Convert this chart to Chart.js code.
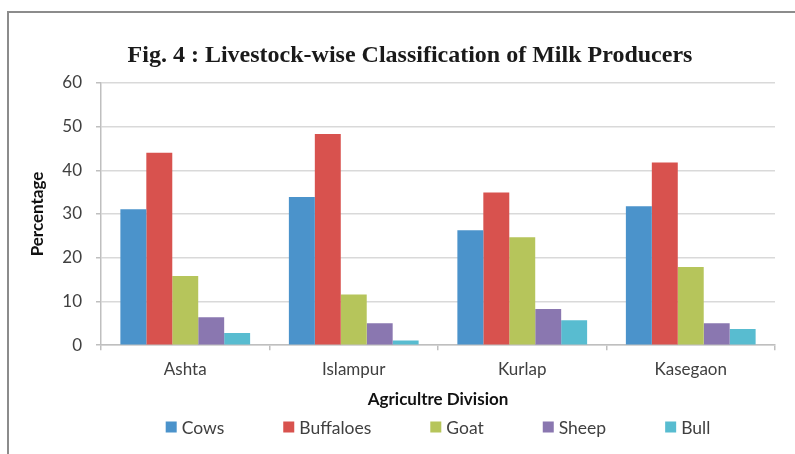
<!DOCTYPE html>
<html>
<head>
<meta charset="utf-8">
<title>Livestock-wise Classification of Milk Producers</title>
<script src="https://cdn.jsdelivr.net/npm/chart.js@4.4.1/dist/chart.umd.min.js"></script>
<style>
  html, body { margin: 0; padding: 0; background: #ffffff; }
  #wrap { position: relative; width: 795px; height: 454px; overflow: hidden; }
  #frame {
    position: absolute; left: 7px; top: 11px; width: 800px; height: 460px;
    border-top: 2px solid #8c8c8c; border-left: 2px solid #8c8c8c;
  }
  #chart { position: absolute; left: 0; top: 0; }
</style>
</head>
<body>
<div id="wrap">
  <div id="frame"></div>
  <canvas id="chart" width="795" height="454"></canvas>
</div>
<script>
// Share of milk producers by livestock kept, per agriculture division (%)
const divisions = ['Ashta', 'Islampur', 'Kurlap', 'Kasegaon'];
const cows      = [31.1, 33.9, 26.3, 31.8];
const buffaloes = [44.0, 48.3, 34.9, 41.8];
const goat      = [15.8, 11.6, 24.7, 17.9];
const sheep     = [6.4, 5.0, 8.3, 5.0];
const bull      = [2.8, 1.1, 5.7, 3.7];

const seriesNames  = ['Cows', 'Buffaloes', 'Goat', 'Sheep', 'Bull'];
const seriesValues = [cows, buffaloes, goat, sheep, bull];
const seriesColors = ['#4b93cb', '#d8524e', '#b6c55b', '#8a77b0', '#58bcd0'];

const BODY_FONT = 'Lato, "Open Sans", sans-serif';

// Legend drawn as one evenly spaced row under the x-axis title
const spacedLegend = {
  id: 'spacedLegend',
  afterDraw(chart, args, opts) {
    const ctx = chart.ctx;
    const area = chart.chartArea;
    ctx.save();
    ctx.font = opts.fontSize + 'px ' + BODY_FONT;
    const items = chart.data.datasets.map(ds => ({
      label: ds.label,
      color: ds.backgroundColor,
      width: opts.boxSize + opts.textGap + ctx.measureText(ds.label).width
    }));
    const total = items.reduce((s, it) => s + it.width, 0) + opts.itemGap * (items.length - 1);
    let x = (area.left + area.right) / 2 - total / 2;
    const y = chart.scales.x.bottom + opts.offsetY;
    ctx.textBaseline = 'middle';
    ctx.textAlign = 'left';
    items.forEach(it => {
      ctx.fillStyle = it.color;
      ctx.fillRect(x, y - opts.boxSize / 2, opts.boxSize, opts.boxSize);
      ctx.fillStyle = opts.color;
      ctx.fillText(it.label, x + opts.boxSize + opts.textGap, y + 1);
      x += it.width + opts.itemGap;
    });
    ctx.restore();
  }
};

new Chart(document.getElementById('chart'), {
  type: 'bar',
  data: {
    labels: divisions,
    datasets: seriesNames.map((name, i) => ({
      label: name,
      data: seriesValues[i],
      backgroundColor: seriesColors[i],
      borderWidth: 0,
      categoryPercentage: 0.77,
      barPercentage: 1.0
    }))
  },
  options: {
    responsive: false,
    animation: false,
    devicePixelRatio: 1,
    layout: { padding: { left: 25, right: 0, top: 0, bottom: 40 } },
    plugins: {
      legend: { display: false },
      tooltip: { enabled: false },
      title: {
        display: true,
        text: 'Fig. 4 : Livestock-wise Classification of Milk Producers',
        color: '#1a1a1a',
        font: { family: '"Liberation Serif", "Times New Roman", serif', size: 24, weight: 'bold' },
        padding: { top: 41, bottom: 13 }
      },
      spacedLegend: { fontSize: 17.5, boxSize: 11, textGap: 5, itemGap: 59, offsetY: 13, color: '#404040' }
    },
    scales: {
      x: {
        grid: { display: true, offset: true, drawOnChartArea: false, drawTicks: true, tickLength: 5, color: '#bfbfbf', lineWidth: 1.5 },
        border: { display: true, color: '#bfbfbf', width: 1.5 },
        ticks: { color: '#404040', font: { family: BODY_FONT, size: 17 }, padding: 9 },
        title: {
          display: true, text: 'Agricultre Division', color: '#111111',
          font: { family: BODY_FONT, size: 17, weight: 'bold' },
          padding: { top: 1, bottom: 4 }
        }
      },
      y: {
        min: 0, max: 60,
        afterFit(scale) { scale.width = 76; },
        grid: { color: '#d9d9d9', lineWidth: 1.5, drawTicks: true, tickLength: 5, tickColor: '#bfbfbf' },
        border: { display: true, color: '#bfbfbf', width: 1.5 },
        ticks: { stepSize: 10, color: '#404040', font: { family: BODY_FONT, size: 17 }, padding: 14 },
        title: {
          display: true, text: 'Percentage', color: '#111111',
          font: { family: BODY_FONT, size: 17, weight: 'bold' },
          padding: { top: 2, bottom: 2 }
        }
      },
      // empty right-hand gutter beside the plot
      gutter: {
        position: 'right', display: true,
        afterFit(scale) { scale.width = 20; },
        grid: { display: false }, border: { display: false }, ticks: { display: false }
      }
    }
  },
  plugins: [spacedLegend]
});
</script>
</body>
</html>
